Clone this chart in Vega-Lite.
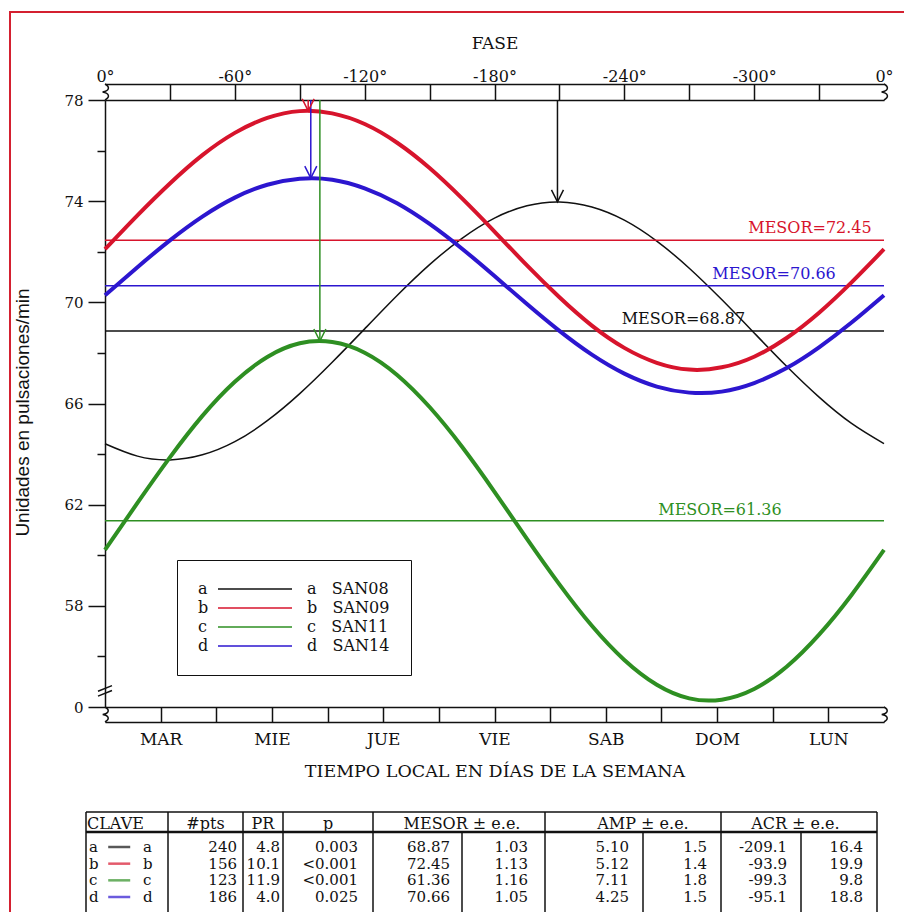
{
  "$schema": "https://vega.github.io/schema/vega-lite/v6.json",
  "width": 897,
  "height": 902,
  "autosize": {"type": "none"},
  "padding": {"left": 10, "top": 12, "right": 0, "bottom": 0},
  "background": "white",
  "config": {
    "view": {"stroke": "#d42030", "strokeWidth": 2},
    "font": "DejaVu Serif",
    "axis": {"labelFont": "DejaVu Serif", "titleFont": "DejaVu Serif", "labelColor": "#111", "titleColor": "#111", "tickColor": "#111", "domainColor": "#111", "domainWidth": 1.5, "tickWidth": 1.5, "titleFontWeight": "normal", "labelFontSize": 15, "titleFontSize": 17, "grid": false, "labelFlush": false, "labelOverlap": false},
    "text": {"font": "DejaVu Serif", "fontSize": 15, "color": "#111"}
  },
  "datasets": {
    "curvas": [
      {"s":"a","fase":0,"v":64.41},{"s":"a","fase":-15,"v":63.92},{"s":"a","fase":-30,"v":63.77},{"s":"a","fase":-45,"v":63.97},{"s":"a","fase":-60,"v":64.49},{"s":"a","fase":-75,"v":65.32},{"s":"a","fase":-90,"v":66.39},{"s":"a","fase":-105,"v":67.63},{"s":"a","fase":-120,"v":68.95},{"s":"a","fase":-135,"v":70.27},{"s":"a","fase":-150,"v":71.49},{"s":"a","fase":-165,"v":72.53},{"s":"a","fase":-180,"v":73.33},{"s":"a","fase":-195,"v":73.82},{"s":"a","fase":-210,"v":73.97},{"s":"a","fase":-225,"v":73.77},{"s":"a","fase":-240,"v":73.25},{"s":"a","fase":-255,"v":72.42},{"s":"a","fase":-270,"v":71.35},{"s":"a","fase":-285,"v":70.11},{"s":"a","fase":-300,"v":68.79},{"s":"a","fase":-315,"v":67.47},{"s":"a","fase":-330,"v":66.25},{"s":"a","fase":-345,"v":65.21},{"s":"a","fase":-360,"v":64.41},
      {"s":"b","fase":0,"v":72.10},{"s":"b","fase":-15,"v":73.44},{"s":"b","fase":-30,"v":74.70},{"s":"b","fase":-45,"v":75.82},{"s":"b","fase":-60,"v":76.70},{"s":"b","fase":-75,"v":77.29},{"s":"b","fase":-90,"v":77.56},{"s":"b","fase":-105,"v":77.47},{"s":"b","fase":-120,"v":77.05},{"s":"b","fase":-135,"v":76.31},{"s":"b","fase":-150,"v":75.31},{"s":"b","fase":-165,"v":74.11},{"s":"b","fase":-180,"v":72.80},{"s":"b","fase":-195,"v":71.46},{"s":"b","fase":-210,"v":70.20},{"s":"b","fase":-225,"v":69.08},{"s":"b","fase":-240,"v":68.20},{"s":"b","fase":-255,"v":67.61},{"s":"b","fase":-270,"v":67.34},{"s":"b","fase":-285,"v":67.43},{"s":"b","fase":-300,"v":67.85},{"s":"b","fase":-315,"v":68.59},{"s":"b","fase":-330,"v":69.59},{"s":"b","fase":-345,"v":70.79},{"s":"b","fase":-360,"v":72.10},
      {"s":"c","fase":0,"v":60.21},{"s":"c","fase":-15,"v":62.07},{"s":"c","fase":-30,"v":63.87},{"s":"c","fase":-45,"v":65.51},{"s":"c","fase":-60,"v":66.86},{"s":"c","fase":-75,"v":67.84},{"s":"c","fase":-90,"v":68.38},{"s":"c","fase":-105,"v":68.43},{"s":"c","fase":-120,"v":68.01},{"s":"c","fase":-135,"v":67.13},{"s":"c","fase":-150,"v":65.86},{"s":"c","fase":-165,"v":64.29},{"s":"c","fase":-180,"v":62.51},{"s":"c","fase":-195,"v":60.65},{"s":"c","fase":-210,"v":58.85},{"s":"c","fase":-225,"v":57.21},{"s":"c","fase":-240,"v":55.86},{"s":"c","fase":-255,"v":54.88},{"s":"c","fase":-270,"v":54.34},{"s":"c","fase":-285,"v":54.29},{"s":"c","fase":-300,"v":54.71},{"s":"c","fase":-315,"v":55.59},{"s":"c","fase":-330,"v":56.86},{"s":"c","fase":-345,"v":58.43},{"s":"c","fase":-360,"v":60.21},
      {"s":"d","fase":0,"v":70.28},{"s":"d","fase":-15,"v":71.39},{"s":"d","fase":-30,"v":72.45},{"s":"d","fase":-45,"v":73.39},{"s":"d","fase":-60,"v":74.14},{"s":"d","fase":-75,"v":74.65},{"s":"d","fase":-90,"v":74.89},{"s":"d","fase":-105,"v":74.85},{"s":"d","fase":-120,"v":74.51},{"s":"d","fase":-135,"v":73.92},{"s":"d","fase":-150,"v":73.10},{"s":"d","fase":-165,"v":72.12},{"s":"d","fase":-180,"v":71.04},{"s":"d","fase":-195,"v":69.93},{"s":"d","fase":-210,"v":68.87},{"s":"d","fase":-225,"v":67.93},{"s":"d","fase":-240,"v":67.18},{"s":"d","fase":-255,"v":66.67},{"s":"d","fase":-270,"v":66.43},{"s":"d","fase":-285,"v":66.47},{"s":"d","fase":-300,"v":66.81},{"s":"d","fase":-315,"v":67.40},{"s":"d","fase":-330,"v":68.22},{"s":"d","fase":-345,"v":69.20},{"s":"d","fase":-360,"v":70.28}
    ],
    "mesor": [{"s":"a","M":68.87},{"s":"b","M":72.45},{"s":"c","M":61.36},{"s":"d","M":70.66}],
    "mesorLinea": [
      {"s":"a","fase":0,"M":68.87},{"s":"a","fase":-360,"M":68.87},
      {"s":"b","fase":0,"M":72.45},{"s":"b","fase":-360,"M":72.45},
      {"s":"c","fase":0,"M":61.36},{"s":"c","fase":-360,"M":61.36},
      {"s":"d","fase":0,"M":70.66},{"s":"d","fase":-360,"M":70.66}
    ],
    "picos": [{"s":"a","acr":-209.1,"pico":73.97,"tope":78},{"s":"b","acr":-93.9,"pico":77.57,"tope":78},{"s":"c","acr":-99.3,"pico":68.47,"tope":78},{"s":"d","acr":-95.1,"pico":74.91,"tope":78}],
    "extremos": [{"e":0},{"e":-360}],
    "tabla": [
      {"r":1,"s":"a","pts":"240","pr":"4.8","p":"0.003","mes":"68.87","mesE":"1.03","amp":"5.10","ampE":"1.5","acr":"-209.1","acrE":"16.4"},
      {"r":2,"s":"b","pts":"156","pr":"10.1","p":"<0.001","mes":"72.45","mesE":"1.13","amp":"5.12","ampE":"1.4","acr":"-93.9","acrE":"19.9"},
      {"r":3,"s":"c","pts":"123","pr":"11.9","p":"<0.001","mes":"61.36","mesE":"1.16","amp":"7.11","ampE":"1.8","acr":"-99.3","acrE":"9.8"},
      {"r":4,"s":"d","pts":"186","pr":"4.0","p":"0.025","mes":"70.66","mesE":"1.05","amp":"4.25","ampE":"1.5","acr":"-95.1","acrE":"18.8"}
    ],
    "cortes": [
      {"c":0,"ya":-0.522,"yb":5},{"c":1,"ya":-0.522,"yb":5},{"c":2,"ya":-0.522,"yb":5},{"c":3,"ya":-0.522,"yb":5},{"c":4,"ya":-0.522,"yb":5},
      {"c":5,"ya":0.348,"yb":5},{"c":6,"ya":-0.522,"yb":5},{"c":7,"ya":0.348,"yb":5},{"c":8,"ya":-0.522,"yb":5},{"c":9,"ya":0.348,"yb":5},{"c":10,"ya":-0.522,"yb":5}
    ],
    "filas": [{"k":"borde","xa":0,"xb":10,"y":-0.522},{"k":"encabezado","xa":0,"xb":10,"y":0.348}],
    "encabezado": [
      {"t":"#pts","c":1.5},{"t":"PR","c":2.5},{"t":"p","c":3.5},{"t":"MESOR ± e.e.","c":5},{"t":"AMP ± e.e.","c":7},{"t":"ACR ± e.e.","c":8.93}
    ]
  },
  "layer": [
    {
      "data": {"name": "curvas"},
      "transform": [{"filter": "datum.s == 'a'"}],
      "mark": {"type": "line", "interpolate": "natural", "strokeWidth": 1.5},
      "encoding": {
        "x": {"field": "fase", "type": "quantitative", "scale": {"domain": [0, -360], "range": [95, 874], "nice": false, "zero": false},
              "axis": {"orient": "top", "offset": -88, "values": [-30,-60,-90,-120,-150,-180,-210,-240,-270,-300,-330], "tickSize": 16,
                       "labelPadding": 0, "labelFontSize": 16,
                       "labelExpr": "(datum.value % 60 == 0) ? datum.value + '°' : ''",
                       "domain": true, "title": null}},
        "y": {"field": "v", "type": "quantitative", "scale": {"domain": [54, 78], "range": [695, 88], "nice": false, "zero": false},
              "axis": {"orient": "left", "offset": -95, "values": [54, 58, 62, 66, 70, 74, 78], "tickSize": 17, "labelPadding": 5, "labelFontSize": 15,
                       "labelExpr": "datum.value == 54 ? '0' : datum.label",
                       "title": "Unidades en pulsaciones/min", "titleFont": "Liberation Sans", "titleFontSize": 19, "titlePadding": 31, "titleY": 400}},
        "color": {"field": "s", "type": "nominal", "scale": {"domain": ["a","b","c","d"], "range": ["#111111","#d7142c","#2e8f22","#2c16cf"]},
                  "legend": {"orient": "none", "legendX": 167, "legendY": 548, "direction": "vertical",
                             "title": ["a", "b", "c", "d"], "titleOrient": "left", "titleAnchor": "start", "titleBaseline": "top", "titleAlign": "left",
                             "titleFont": "DejaVu Serif", "titleFontSize": 16, "titleFontWeight": "normal", "titleLineHeight": 19, "titlePadding": 8, "titleColor": "#111",
                             "symbolType": "stroke", "symbolSize": 5476, "symbolStrokeWidth": 1.5, "clipHeight": 16, "rowPadding": 3,
                             "labelFont": "DejaVu Serif", "labelFontSize": 16, "labelColor": "#111", "labelOffset": 14, "labelLimit": 0,
                             "labelExpr": "datum.label == 'a' ? 'a\u00a0\u00a0\u00a0SAN08\u00a0' : datum.label == 'b' ? 'b\u00a0\u00a0\u00a0SAN09\u00a0' : datum.label == 'c' ? 'c\u00a0\u00a0\u00a0SAN11\u00a0' : 'd\u00a0\u00a0\u00a0SAN14\u00a0'",
                             "strokeColor": "#111", "padding": 21}}
      }
    },
    {
      "data": {"name": "mesorLinea"},
      "mark": {"type": "line", "strokeWidth": 1.5},
      "encoding": {
        "x": {"field": "fase", "type": "quantitative", "scale": {"domain": [0, -360], "range": [95, 874], "nice": false, "zero": false},
              "axis": {"orient": "top", "offset": -72, "values": [0, -360], "ticks": false, "labelPadding": 0, "labelFontSize": 16, "labelExpr": "'0°'", "domain": true, "title": "FASE", "titlePadding": 16}},
        "y": {"field": "M", "type": "quantitative", "scale": {"domain": [54, 78], "range": [695, 88], "nice": false, "zero": false},
              "axis": {"orient": "left", "offset": -95, "values": [56, 60, 64, 68, 72, 76], "tickSize": 8, "labels": false, "domain": false, "title": null}},
        "color": {"field": "s", "type": "nominal", "scale": {"domain": ["a","b","c","d"], "range": ["#111111","#d7142c","#2e8f22","#2c16cf"]}}
      }
    },
    {
      "data": {"name": "curvas"},
      "transform": [{"filter": "datum.s != 'a'"}],
      "mark": {"type": "line", "interpolate": "natural", "strokeWidth": 4},
      "encoding": {
        "x": {"field": "fase", "type": "quantitative", "scale": {"domain": [0, -360], "range": [95, 874], "nice": false, "zero": false}, "axis": null},
        "y": {"field": "v", "type": "quantitative", "scale": {"domain": [54, 78], "range": [695, 88], "nice": false, "zero": false}, "axis": null},
        "color": {"field": "s", "type": "nominal", "scale": {"domain": ["a","b","c","d"], "range": ["#111111","#d7142c","#2e8f22","#2c16cf"]}}
      }
    },
    {
      "data": {"name": "picos"},
      "mark": {"type": "rule", "strokeWidth": 1.5},
      "encoding": {
        "x": {"field": "acr", "type": "quantitative", "scale": {"domain": [0, -360], "range": [95, 874], "nice": false, "zero": false},
              "axis": {"orient": "bottom", "offset": -207,
                       "values": [-25.7143,-51.4286,-77.1429,-102.8571,-128.5714,-154.2857,-180,-205.7143,-231.4286,-257.1429,-282.8571,-308.5714,-334.2857],
                       "tickSize": 15, "labelPadding": 9, "labelFontSize": 17,
                       "labelExpr": "(round(-datum.value*14/360) % 2 == 1) ? ['MAR','MIE','JUE','VIE','SAB','DOM','LUN'][floor(round(-datum.value*14/360)/2)] : ''",
                       "domain": true, "title": "TIEMPO LOCAL EN DÍAS DE LA SEMANA", "titleFontSize": 17.5, "titlePadding": 15}},
        "y": {"field": "tope", "type": "quantitative", "scale": {"domain": [54, 78], "range": [695, 88], "nice": false, "zero": false}, "axis": null},
        "y2": {"field": "pico"},
        "color": {"field": "s", "type": "nominal", "scale": {"domain": ["a","b","c","d"], "range": ["#111111","#d7142c","#2e8f22","#2c16cf"]}}
      }
    },
    {
      "data": {"name": "picos"},
      "mark": {"type": "point", "shape": "M-1,-2L0,0L1,-2", "size": 144, "filled": false, "strokeWidth": 1.5, "opacity": 1},
      "encoding": {
        "x": {"field": "acr", "type": "quantitative", "scale": {"domain": [0, -360], "range": [95, 874], "nice": false, "zero": false},
              "axis": {"orient": "bottom", "offset": -192, "ticks": false, "labels": false, "domain": true, "title": null}},
        "y": {"field": "pico", "type": "quantitative", "scale": {"domain": [54, 78], "range": [695, 88], "nice": false, "zero": false}, "axis": null},
        "color": {"field": "s", "type": "nominal", "scale": {"domain": ["a","b","c","d"], "range": ["#111111","#d7142c","#2e8f22","#2c16cf"]}}
      }
    },
    {
      "data": {"name": "extremos"},
      "mark": {"type": "point", "shape": "M0,-1C0.7,-0.6 0.5,-0.15 -0.3,0C0.5,0.15 0.7,0.6 0,1", "size": 256, "filled": false, "strokeWidth": 1.5, "color": "#111", "opacity": 1},
      "encoding": {
        "x": {"field": "e", "type": "quantitative", "scale": {"domain": [0, -360], "range": [95, 874], "nice": false, "zero": false}, "axis": null},
        "y": {"datum": 78.316, "type": "quantitative", "scale": {"domain": [54, 78], "range": [695, 88], "nice": false, "zero": false}, "axis": null}
      }
    },
    {
      "data": {"name": "extremos"},
      "mark": {"type": "point", "shape": "M0,-1C0.7,-0.6 0.5,-0.15 -0.3,0C0.5,0.15 0.7,0.6 0,1", "size": 225, "filled": false, "strokeWidth": 1.5, "color": "#111", "opacity": 1},
      "encoding": {
        "x": {"field": "e", "type": "quantitative", "scale": {"domain": [0, -360], "range": [95, 874], "nice": false, "zero": false}, "axis": null},
        "y": {"datum": 53.703, "type": "quantitative", "scale": {"domain": [54, 78], "range": [695, 88], "nice": false, "zero": false}, "axis": null}
      }
    },
    {
      "data": {"values": [{"k": 1}]},
      "mark": {"type": "point", "shape": "M-1,0.1L1,-0.7M-1,0.8L1,0", "size": 196, "filled": false, "strokeWidth": 1.5, "color": "#111", "opacity": 1},
      "encoding": {
        "x": {"datum": 0, "type": "quantitative", "scale": {"domain": [0, -360], "range": [95, 874], "nice": false, "zero": false}, "axis": null},
        "y": {"datum": 54.65, "type": "quantitative", "scale": {"domain": [54, 78], "range": [695, 88], "nice": false, "zero": false}, "axis": null}
      }
    },
    {
      "data": {"name": "mesor"},
      "transform": [{"filter": "datum.s == 'b'"}],
      "mark": {"type": "text", "fontSize": 16, "dy": -12, "color": "#d7142c"},
      "encoding": {
        "x": {"datum": -325.8, "type": "quantitative", "scale": {"domain": [0, -360], "range": [95, 874], "nice": false, "zero": false}, "axis": null},
        "y": {"field": "M", "type": "quantitative", "scale": {"domain": [54, 78], "range": [695, 88], "nice": false, "zero": false}, "axis": null},
        "text": {"value": "MESOR=72.45"}
      }
    },
    {
      "data": {"name": "mesor"},
      "transform": [{"filter": "datum.s == 'd'"}],
      "mark": {"type": "text", "fontSize": 16, "dy": -12, "color": "#2c16cf"},
      "encoding": {
        "x": {"datum": -309.2, "type": "quantitative", "scale": {"domain": [0, -360], "range": [95, 874], "nice": false, "zero": false}, "axis": null},
        "y": {"field": "M", "type": "quantitative", "scale": {"domain": [54, 78], "range": [695, 88], "nice": false, "zero": false}, "axis": null},
        "text": {"value": "MESOR=70.66"}
      }
    },
    {
      "data": {"name": "mesor"},
      "transform": [{"filter": "datum.s == 'a'"}],
      "mark": {"type": "text", "fontSize": 16, "dy": -12, "color": "#111111"},
      "encoding": {
        "x": {"datum": -267.3, "type": "quantitative", "scale": {"domain": [0, -360], "range": [95, 874], "nice": false, "zero": false}, "axis": null},
        "y": {"field": "M", "type": "quantitative", "scale": {"domain": [54, 78], "range": [695, 88], "nice": false, "zero": false}, "axis": null},
        "text": {"value": "MESOR=68.87"}
      }
    },
    {
      "data": {"name": "mesor"},
      "transform": [{"filter": "datum.s == 'c'"}],
      "mark": {"type": "text", "fontSize": 16, "dy": -11, "color": "#2e8f22"},
      "encoding": {
        "x": {"datum": -284.2, "type": "quantitative", "scale": {"domain": [0, -360], "range": [95, 874], "nice": false, "zero": false}, "axis": null},
        "y": {"field": "M", "type": "quantitative", "scale": {"domain": [54, 78], "range": [695, 88], "nice": false, "zero": false}, "axis": null},
        "text": {"value": "MESOR=61.36"}
      }
    },
    {
      "data": {"name": "cortes"},
      "mark": {"type": "rule", "strokeWidth": 1.5, "color": "#111"},
      "encoding": {
        "x": {"field": "c", "type": "quantitative", "scale": {"domain": [0,1,2,3,4,5,6,7,8,9,10], "range": [76,158,233,273,363,452,535,633,711,791,867], "nice": false, "zero": false}, "axis": null},
        "y": {"field": "ya", "type": "quantitative", "scale": {"domain": [0, 1, 4], "range": [812, 835, 885], "nice": false, "zero": false}, "axis": null},
        "y2": {"field": "yb"}
      }
    },
    {
      "data": {"name": "filas"},
      "transform": [{"filter": "datum.k == 'borde'"}],
      "mark": {"type": "rule", "strokeWidth": 1.5, "color": "#111"},
      "encoding": {
        "x": {"field": "xa", "type": "quantitative", "scale": {"domain": [0,1,2,3,4,5,6,7,8,9,10], "range": [76,158,233,273,363,452,535,633,711,791,867], "nice": false, "zero": false}, "axis": null},
        "x2": {"field": "xb"},
        "y": {"field": "y", "type": "quantitative", "scale": {"domain": [0, 1, 4], "range": [812, 835, 885], "nice": false, "zero": false}, "axis": null}
      }
    },
    {
      "data": {"name": "filas"},
      "transform": [{"filter": "datum.k == 'encabezado'"}],
      "mark": {"type": "rule", "strokeWidth": 2.5, "color": "#111"},
      "encoding": {
        "x": {"field": "xa", "type": "quantitative", "scale": {"domain": [0,1,2,3,4,5,6,7,8,9,10], "range": [76,158,233,273,363,452,535,633,711,791,867], "nice": false, "zero": false}, "axis": null},
        "x2": {"field": "xb"},
        "y": {"field": "y", "type": "quantitative", "scale": {"domain": [0, 1, 4], "range": [812, 835, 885], "nice": false, "zero": false}, "axis": null}
      }
    },
    {
      "data": {"values": [{"t": "CLAVE"}]},
      "mark": {"type": "text", "align": "left", "dx": 1, "fontSize": 16},
      "encoding": {
        "x": {"datum": 0, "type": "quantitative", "scale": {"domain": [0,1,2,3,4,5,6,7,8,9,10], "range": [76,158,233,273,363,452,535,633,711,791,867], "nice": false, "zero": false}, "axis": null},
        "y": {"datum": 0, "type": "quantitative", "scale": {"domain": [0, 1, 4], "range": [812, 835, 885], "nice": false, "zero": false}, "axis": null},
        "text": {"field": "t"}
      }
    },
    {
      "data": {"name": "encabezado"},
      "mark": {"type": "text", "fontSize": 16},
      "encoding": {
        "x": {"field": "c", "type": "quantitative", "scale": {"domain": [0,1,2,3,4,5,6,7,8,9,10], "range": [76,158,233,273,363,452,535,633,711,791,867], "nice": false, "zero": false}, "axis": null},
        "y": {"datum": 0, "type": "quantitative", "scale": {"domain": [0, 1, 4], "range": [812, 835, 885], "nice": false, "zero": false}, "axis": null},
        "text": {"field": "t"}
      }
    },
    {
      "data": {"name": "tabla"},
      "mark": {"type": "text", "align": "left", "dx": 3},
      "encoding": {
        "x": {"datum": 0, "type": "quantitative", "scale": {"domain": [0,1,2,3,4,5,6,7,8,9,10], "range": [76,158,233,273,363,452,535,633,711,791,867], "nice": false, "zero": false}, "axis": null},
        "y": {"field": "r", "type": "quantitative", "scale": {"domain": [0, 1, 4], "range": [812, 835, 885], "nice": false, "zero": false}, "axis": null},
        "text": {"field": "s"}
      }
    },
    {
      "data": {"name": "tabla"},
      "mark": {"type": "tick", "orient": "horizontal", "size": 22, "thickness": 2.5},
      "encoding": {
        "x": {"datum": 0.405, "type": "quantitative", "scale": {"domain": [0,1,2,3,4,5,6,7,8,9,10], "range": [76,158,233,273,363,452,535,633,711,791,867], "nice": false, "zero": false}, "axis": null},
        "y": {"field": "r", "type": "quantitative", "scale": {"domain": [0, 1, 4], "range": [812, 835, 885], "nice": false, "zero": false}, "axis": null},
        "color": {"field": "s", "type": "nominal", "scale": {"domain": ["a","b","c","d"], "range": ["#111111","#d7142c","#2e8f22","#2c16cf"]}}
      }
    },
    {
      "data": {"name": "tabla"},
      "mark": {"type": "text", "align": "left"},
      "encoding": {
        "x": {"datum": 0.695, "type": "quantitative", "scale": {"domain": [0,1,2,3,4,5,6,7,8,9,10], "range": [76,158,233,273,363,452,535,633,711,791,867], "nice": false, "zero": false}, "axis": null},
        "y": {"field": "r", "type": "quantitative", "scale": {"domain": [0, 1, 4], "range": [812, 835, 885], "nice": false, "zero": false}, "axis": null},
        "text": {"field": "s"}
      }
    },
    {
      "data": {"name": "tabla"},
      "mark": {"type": "text", "align": "right", "dx": -6},
      "encoding": {
        "x": {"datum": 2, "type": "quantitative", "scale": {"domain": [0,1,2,3,4,5,6,7,8,9,10], "range": [76,158,233,273,363,452,535,633,711,791,867], "nice": false, "zero": false}, "axis": null},
        "y": {"field": "r", "type": "quantitative", "scale": {"domain": [0, 1, 4], "range": [812, 835, 885], "nice": false, "zero": false}, "axis": null},
        "text": {"field": "pts"}
      }
    },
    {
      "data": {"name": "tabla"},
      "mark": {"type": "text", "align": "right", "dx": -3},
      "encoding": {
        "x": {"datum": 3, "type": "quantitative", "scale": {"domain": [0,1,2,3,4,5,6,7,8,9,10], "range": [76,158,233,273,363,452,535,633,711,791,867], "nice": false, "zero": false}, "axis": null},
        "y": {"field": "r", "type": "quantitative", "scale": {"domain": [0, 1, 4], "range": [812, 835, 885], "nice": false, "zero": false}, "axis": null},
        "text": {"field": "pr"}
      }
    },
    {
      "data": {"name": "tabla"},
      "mark": {"type": "text", "align": "right", "dx": -15},
      "encoding": {
        "x": {"datum": 4, "type": "quantitative", "scale": {"domain": [0,1,2,3,4,5,6,7,8,9,10], "range": [76,158,233,273,363,452,535,633,711,791,867], "nice": false, "zero": false}, "axis": null},
        "y": {"field": "r", "type": "quantitative", "scale": {"domain": [0, 1, 4], "range": [812, 835, 885], "nice": false, "zero": false}, "axis": null},
        "text": {"field": "p"}
      }
    },
    {
      "data": {"name": "tabla"},
      "mark": {"type": "text", "align": "right", "dx": -12},
      "encoding": {
        "x": {"datum": 5, "type": "quantitative", "scale": {"domain": [0,1,2,3,4,5,6,7,8,9,10], "range": [76,158,233,273,363,452,535,633,711,791,867], "nice": false, "zero": false}, "axis": null},
        "y": {"field": "r", "type": "quantitative", "scale": {"domain": [0, 1, 4], "range": [812, 835, 885], "nice": false, "zero": false}, "axis": null},
        "text": {"field": "mes"}
      }
    },
    {
      "data": {"name": "tabla"},
      "mark": {"type": "text", "align": "right", "dx": -17},
      "encoding": {
        "x": {"datum": 6, "type": "quantitative", "scale": {"domain": [0,1,2,3,4,5,6,7,8,9,10], "range": [76,158,233,273,363,452,535,633,711,791,867], "nice": false, "zero": false}, "axis": null},
        "y": {"field": "r", "type": "quantitative", "scale": {"domain": [0, 1, 4], "range": [812, 835, 885], "nice": false, "zero": false}, "axis": null},
        "text": {"field": "mesE"}
      }
    },
    {
      "data": {"name": "tabla"},
      "mark": {"type": "text", "align": "right", "dx": -14},
      "encoding": {
        "x": {"datum": 7, "type": "quantitative", "scale": {"domain": [0,1,2,3,4,5,6,7,8,9,10], "range": [76,158,233,273,363,452,535,633,711,791,867], "nice": false, "zero": false}, "axis": null},
        "y": {"field": "r", "type": "quantitative", "scale": {"domain": [0, 1, 4], "range": [812, 835, 885], "nice": false, "zero": false}, "axis": null},
        "text": {"field": "amp"}
      }
    },
    {
      "data": {"name": "tabla"},
      "mark": {"type": "text", "align": "right", "dx": -14},
      "encoding": {
        "x": {"datum": 8, "type": "quantitative", "scale": {"domain": [0,1,2,3,4,5,6,7,8,9,10], "range": [76,158,233,273,363,452,535,633,711,791,867], "nice": false, "zero": false}, "axis": null},
        "y": {"field": "r", "type": "quantitative", "scale": {"domain": [0, 1, 4], "range": [812, 835, 885], "nice": false, "zero": false}, "axis": null},
        "text": {"field": "ampE"}
      }
    },
    {
      "data": {"name": "tabla"},
      "mark": {"type": "text", "align": "right", "dx": -14},
      "encoding": {
        "x": {"datum": 9, "type": "quantitative", "scale": {"domain": [0,1,2,3,4,5,6,7,8,9,10], "range": [76,158,233,273,363,452,535,633,711,791,867], "nice": false, "zero": false}, "axis": null},
        "y": {"field": "r", "type": "quantitative", "scale": {"domain": [0, 1, 4], "range": [812, 835, 885], "nice": false, "zero": false}, "axis": null},
        "text": {"field": "acr"}
      }
    },
    {
      "data": {"name": "tabla"},
      "mark": {"type": "text", "align": "right", "dx": -14},
      "encoding": {
        "x": {"datum": 10, "type": "quantitative", "scale": {"domain": [0,1,2,3,4,5,6,7,8,9,10], "range": [76,158,233,273,363,452,535,633,711,791,867], "nice": false, "zero": false}, "axis": null},
        "y": {"field": "r", "type": "quantitative", "scale": {"domain": [0, 1, 4], "range": [812, 835, 885], "nice": false, "zero": false}, "axis": null},
        "text": {"field": "acrE"}
      }
    }
  ],
  "resolve": {"scale": {"x": "independent", "y": "independent"}}
}
